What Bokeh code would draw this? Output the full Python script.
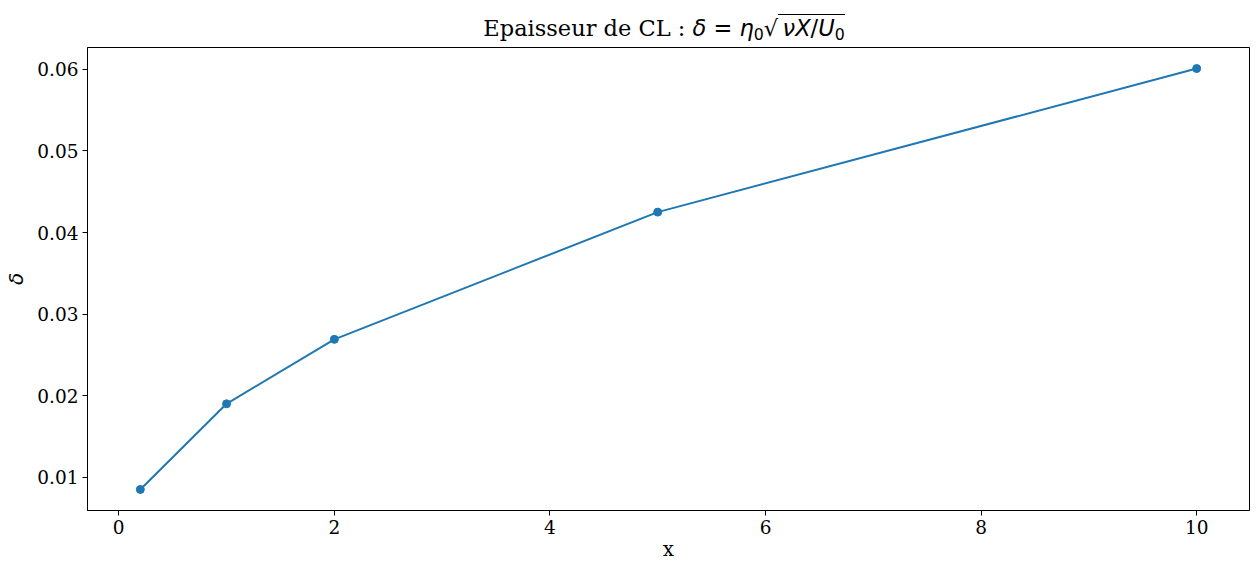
from bokeh.plotting import figure
from bokeh.models import Range1d, FixedTicker, Div
from bokeh.layouts import column
from bokeh.embed import file_html
from bokeh.resources import INLINE

x_vals = [0.2, 1.0, 2.0, 5.0, 10.0]
delta_vals = [0.0085, 0.0190, 0.0269, 0.0425, 0.0601]
x_ticks = [0, 2, 4, 6, 8, 10]
y_ticks = [0.01, 0.02, 0.03, 0.04, 0.05, 0.06]
title_text = "Epaisseur de CL : "

COLOR = "#1f77b4"
SERIF = "DejaVu Serif"

W = 1251
H = 570
TOP = 47
FRAME_LEFT = 87
FRAME_RIGHT = 2
FRAME_BOTTOM = 60

sub0 = '<span style="font-style:normal;font-size:0.7em;vertical-align:-0.25em;">0</span>'
up = lambda s: f'<span style="font-style:normal;">{s}</span>'
title_html = (
    f'<div style="width:{W - FRAME_LEFT - FRAME_RIGHT}px;margin-left:{FRAME_LEFT - 4}px;'
    f'text-align:center;padding-top:15px;line-height:26px;color:black;white-space:nowrap;">'
    f'<span style="font-family:\'{SERIF}\';font-size:22.5px;">{title_text}</span>'
    f'<span style="font-family:\'DejaVu Sans\';font-style:italic;font-size:22.5px;">'
    f'δ{up(" = ")}η{sub0}{up("√")}'
    f'<span style="border-top:1.3px solid black;padding-top:0px;">&thinsp;νX{up("/")}U{sub0}</span></span>'
    f'</div>'
)
title_div = Div(text=title_html, width=W, height=TOP, margin=(0, 0, 0, 0))

p = figure(width=W, height=H - TOP, output_backend="svg", toolbar_location=None,
           x_range=Range1d(-0.29, 10.49), y_range=Range1d(0.00592, 0.06268),
           min_border_left=FRAME_LEFT, min_border_right=FRAME_RIGHT,
           min_border_top=0, min_border_bottom=FRAME_BOTTOM, margin=(0, 0, 0, 0))
p.xgrid.visible = False
p.ygrid.visible = False
p.outline_line_color = "black"
p.outline_line_width = 1
p.background_fill_color = "white"
p.border_fill_color = "white"

p.line(x_vals, delta_vals, line_color=COLOR, line_width=2)
p.scatter(x_vals, delta_vals, size=8, fill_color=COLOR, line_color=COLOR)

for ax in (p.xaxis[0], p.yaxis[0]):
    ax.major_label_text_font = SERIF
    ax.major_label_text_font_size = "18.5px"
    ax.major_label_text_color = "black"
    ax.axis_line_color = "black"
    ax.major_tick_line_color = "black"
    ax.major_tick_out = 5
    ax.major_tick_in = 0
    ax.minor_tick_line_color = None
    ax.major_label_standoff = 4
    ax.axis_label_text_font_style = "normal"
    ax.axis_label_text_font_size = "20px"
    ax.axis_label_text_color = "black"

p.xaxis.ticker = FixedTicker(ticks=x_ticks)
p.yaxis.ticker = FixedTicker(ticks=y_ticks)
p.xaxis.axis_label = "x"
p.xaxis.axis_label_text_font = SERIF
p.xaxis.axis_label_standoff = 0
p.yaxis.axis_label = "δ"
p.yaxis.axis_label_text_font = "DejaVu Sans"
p.yaxis.axis_label_text_font_style = "italic"
p.yaxis.axis_label_standoff = 6

layout = column(title_div, p, spacing=0, margin=(0, 0, 0, 0))
open("out.html", "w").write(file_html(layout, INLINE))
